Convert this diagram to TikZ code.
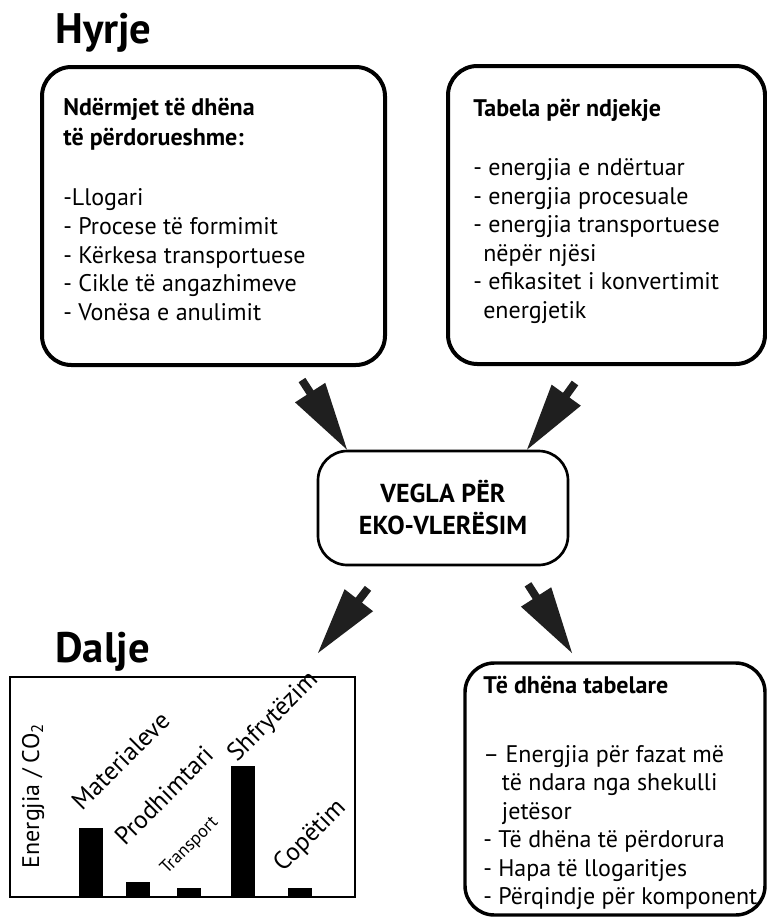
\documentclass[tikz,border=0pt]{standalone}
\usepackage{fontspec}
\setmainfont{PT Sans}
\usetikzlibrary{calc,positioning}
\newcommand\bodyfont{\fontsize{18}{21.4}\selectfont}
% filled wedge arrow from tail #1 to tip #2
\newcommand\fatarrow[2]{%
  \coordinate (fa-base) at ($(#1)!11.25pt!(#2)$);
  \fill[wedge] ($(#1)!3pt!90:(#2)$) -- ($(fa-base)!3pt!90:(#2)$)
    -- ($(fa-base)!13.5pt!90:(#2)$) -- (#2)
    -- ($(fa-base)!13.5pt!-90:(#2)$) -- ($(fa-base)!3pt!-90:(#2)$)
    -- ($(#1)!3pt!-90:(#2)$) -- cycle;}
\tikzset{
  heading/.style={font=\fontsize{32}{34}\selectfont\bfseries,inner sep=0pt,anchor=base west},
  panel/.style={draw,line width=3pt,rounded corners=22pt,inner sep=0pt,outer sep=0pt},
  paneltext/.style={font=\bodyfont,align=left,inner sep=0pt,anchor=north west},
  toolbox/.style={draw,line width=2pt,rounded corners=22pt,align=center,
    font=\fontsize{19.5}{24}\selectfont\bfseries},
  chartbox/.style={draw,line width=1.5pt,inner sep=0pt,outer sep=0pt},
  bar/.style={fill=black},
  barlabel/.style={font=\fontsize{19}{21}\selectfont,rotate=45,anchor=base west,inner sep=0pt},
  wedge/.style={fill=black!88}}
\begin{document}
\begin{tikzpicture}[x=.75pt,y=-.75pt]
\useasboundingbox (0,0) rectangle (767,921);
% titles
\node[heading] (hyrje) at (55,43) {Hyrje};
\node[heading] (dalje) at (55,662) {Dalje};
% input panels
\node[panel,minimum width=257.25pt,minimum height=223.5pt] (inputs) at (213.5,216) {};
\node[paneltext] (inputstext) at ($(inputs.north west)+(21,31)$)
  {\textbf{Ndërmjet të dhëna}\\[1pt]
   \textbf{të përdorueshme:}\\[24pt]
   -Llogari\\
   - Procese të formimit\\
   - Kërkesa transportuese\\
   - Cikle të angazhimeve\\
   - Vonësa e anulimit};
\node[panel,minimum width=237.75pt,minimum height=223.5pt] (tables) at (606.5,215) {};
\node[paneltext] (tablestext) at ($(tables.north west)+(25,33)$)
  {\textbf{Tabela për ndjekje}\\[23pt]
   - energjia e ndërtuar\\
   - energjia procesuale\\
   - energjia transportuese\\
   \hspace*{7.5pt}nëpër njësi\\
   - efikasitet i konvertimit\\
   \hspace*{7.5pt}energjetik};
% tool
\node[toolbox,minimum width=187.5pt,minimum height=85.5pt] (tool) at (443,508)
  {VEGLA PËR\\EKO-VLERËSIM};
% output chart
\node[chartbox,minimum width=258.75pt,minimum height=165pt] (chart) at (182.5,787) {};
\foreach \bx/\bh in {69/69,116/15,167/9,221/131,278/9}
  \fill[bar] ($(chart.south west)+(\bx,0)$) rectangle ++(24,-\bh);
\foreach \lx/\ly/\lab in {72/85/Materialeve,115/50/Prodhimtari,227/134/Shfrytëzim,273/24/Copëtim}
  \node[barlabel] (lab-\lx) at ($(chart.south west)+(\lx,-\ly)$) {\lab};
\node[barlabel,font=\fontsize{13.5}{15}\selectfont] (lab-transport)
  at ($(chart.south west)+(157,-22)$) {Transport};
\node[font=\fontsize{18}{20}\selectfont,rotate=90,inner sep=0pt] (ylab)
  at ($(chart.west)+(23,9)$) {Energjia / CO\textsubscript{2}};
% output table panel
\node[panel,line width=2.6pt,minimum width=225pt,minimum height=189pt] (outputs) at (615,789) {};
\node[paneltext] (outputstext) at ($(outputs.north west)+(18,13)$)
  {\textbf{Të dhëna tabelare}\\[30pt]
   – Energjia për fazat më\\
   \hspace*{14pt}të ndara nga shekulli\\
   \hspace*{14pt}jetësor\\
   - Të dhëna të përdorura\\
   - Hapa të llogaritjes\\
   - Përqindje për komponent};
% arrows
\coordinate (t1) at (302,380);
\coordinate (p1) at ($(tool.north)+(-96,0)$);
\coordinate (t2) at (575,383);
\coordinate (p2) at ($(tool.north)+(84,0)$);
\coordinate (t3) at ($(tool.south)+(-75,22)$);
\coordinate (p3) at ($(chart.north)+(135.5,-24)$);
\coordinate (t4) at ($(tool.south)+(85,18)$);
\coordinate (p4) at ($(outputs.north)+(-43,-10)$);
\fatarrow{t1}{p1}
\fatarrow{t2}{p2}
\fatarrow{t3}{p3}
\fatarrow{t4}{p4}
\end{tikzpicture}
\end{document}
